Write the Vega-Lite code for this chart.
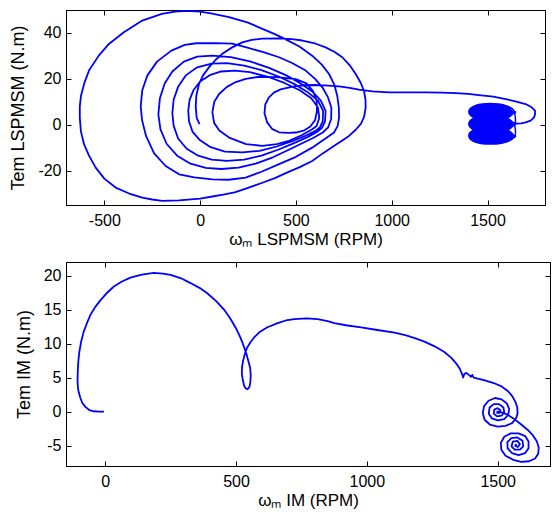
{
  "$schema": "https://vega.github.io/schema/vega-lite/v6.json",
  "padding": {"left": 9, "top": 9, "right": 2, "bottom": 0},
  "background": "white",
  "spacing": 13,
  "config": {
    "font": "Liberation Sans",
    "view": {"stroke": "#000", "strokeWidth": 1},
    "axis": {"grid": false, "domainColor": "#000", "domainWidth": 1, "tickColor": "#000", "tickSize": -5, "tickWidth": 1, "labelFont": "Liberation Sans", "labelFontSize": 16, "labelColor": "#000", "titleFont": "Liberation Sans", "titleFontSize": 17, "titleFontWeight": "normal", "titleColor": "#000", "labelFlush": false, "labelOverlap": false, "labelExpr": "'' + datum.value"},
    "axisX": {"titlePadding": 3, "labelPadding": 12},
    "axisY": {"titlePadding": 10, "labelPadding": 10, "titleFontSize": 18}
  },
  "datasets": {
    "lspmsm": [
      {"x":-3,"y":0.3},{"x":-18,"y":3},{"x":-23,"y":8},{"x":-20,"y":12.5},{"x":-6,"y":17.7},{"x":15,"y":21.5},{"x":46,"y":25},{"x":80,"y":28.2},{"x":116,"y":30.9},{"x":165,"y":33.6},{"x":220,"y":35.9},{"x":270,"y":37},{"x":325,"y":37.5},{"x":412,"y":37.6},{"x":480,"y":37.3},{"x":533,"y":36.7},{"x":600,"y":35.4},{"x":655,"y":33.7},{"x":700,"y":31.8},{"x":742,"y":29.4},{"x":780,"y":26},{"x":812,"y":22.1},{"x":838,"y":18.3},{"x":855,"y":14.8},{"x":863,"y":11},{"x":864,"y":7.5},{"x":856,"y":3.5},{"x":840,"y":0.5},{"x":812,"y":-2.2},{"x":777,"y":-4.9},
      {"x":740,"y":-7},{"x":700,"y":-9.2},{"x":640,"y":-12.5},{"x":585,"y":-15.8},{"x":520,"y":-18.5},{"x":450,"y":-21},{"x":390,"y":-23.3},{"x":325,"y":-25.3},{"x":250,"y":-27.5},{"x":180,"y":-29.5},{"x":120,"y":-30.5},{"x":64,"y":-31.3},{"x":0,"y":-32.2},{"x":-110,"y":-33},{"x":-197,"y":-33.2},{"x":-250,"y":-32.6},{"x":-302,"y":-31.8},{"x":-370,"y":-30},{"x":-441,"y":-27.4},{"x":-500,"y":-23.5},{"x":-545,"y":-18.7},{"x":-580,"y":-13.5},{"x":-606,"y":-8.5},{"x":-622,"y":-3},{"x":-628,"y":3},{"x":-628,"y":8},{"x":-622,"y":12.5},{"x":-605,"y":18},{"x":-580,"y":23.6},{"x":-530,"y":30},{"x":-476,"y":35.2},{"x":-400,"y":40.2},{"x":-302,"y":45.4},{"x":-200,"y":48.3},{"x":-130,"y":49.3},{"x":-70,"y":49.6},{"x":0,"y":49.3},{"x":50,"y":48.6},{"x":151,"y":46.9},{"x":250,"y":44.5},{"x":325,"y":41.8},{"x":390,"y":39.5},{"x":447,"y":37.2},{"x":520,"y":34},{"x":585,"y":30.1},{"x":635,"y":26.2},{"x":673,"y":22.1},{"x":700,"y":17.5},{"x":716,"y":12.5},{"x":724,"y":7.5},{"x":725,"y":3.2},{"x":718,"y":-0.5},
      {"x":699,"y":-3.4},{"x":660,"y":-5.7},{"x":620,"y":-8},{"x":585,"y":-10},{"x":500,"y":-14},{"x":412,"y":-17.2},{"x":320,"y":-20.5},{"x":238,"y":-23.1},{"x":150,"y":-24},{"x":64,"y":-23.8},{"x":-30,"y":-23},{"x":-110,"y":-21.6},{"x":-180,"y":-18},{"x":-240,"y":-12.5},{"x":-282,"y":-5},{"x":-303,"y":2},{"x":-310,"y":8},{"x":-302,"y":15},{"x":-275,"y":21.5},{"x":-225,"y":27.5},{"x":-150,"y":32.3},{"x":-80,"y":34.8},{"x":-20,"y":35.5},{"x":80,"y":35.6},{"x":167,"y":35.3},{"x":238,"y":33.8},{"x":330,"y":31.6},{"x":412,"y":29.4},{"x":480,"y":26.9},{"x":551,"y":23.6},{"x":600,"y":20},{"x":638,"y":16.3},{"x":667,"y":12},{"x":685,"y":7.5},{"x":684,"y":2.5},{"x":668,"y":-1.2},
      {"x":640,"y":-3.4},{"x":590,"y":-5.8},{"x":530,"y":-8.2},{"x":460,"y":-11},{"x":380,"y":-14.2},{"x":290,"y":-17},{"x":200,"y":-18.7},{"x":110,"y":-19.3},{"x":30,"y":-18.8},{"x":-50,"y":-17},{"x":-120,"y":-13.5},{"x":-175,"y":-8.3},{"x":-207,"y":-2},{"x":-218,"y":4.5},{"x":-210,"y":11.5},{"x":-185,"y":18},{"x":-145,"y":23.2},{"x":-85,"y":27.5},{"x":-15,"y":29.7},{"x":64,"y":30.1},{"x":160,"y":29.5},{"x":260,"y":27.6},{"x":360,"y":24.8},{"x":450,"y":21.5},{"x":525,"y":18},{"x":585,"y":14.5},{"x":630,"y":10.5},{"x":655,"y":6},{"x":652,"y":1.5},{"x":635,"y":-1.5},
      {"x":610,"y":-3.2},{"x":560,"y":-5.4},{"x":490,"y":-8},{"x":410,"y":-10.8},{"x":320,"y":-13.5},{"x":230,"y":-15.2},{"x":140,"y":-15.8},{"x":60,"y":-15.2},{"x":-10,"y":-13.5},{"x":-70,"y":-10.5},{"x":-115,"y":-6},{"x":-138,"y":-0.5},{"x":-145,"y":5},{"x":-138,"y":11},{"x":-115,"y":16.5},{"x":-75,"y":21.5},{"x":-15,"y":25},{"x":60,"y":26.6},{"x":140,"y":26.8},{"x":230,"y":25.8},{"x":320,"y":23.8},{"x":410,"y":21},{"x":490,"y":17.8},{"x":560,"y":14.3},{"x":615,"y":10.5},{"x":642,"y":6},{"x":640,"y":1.5},{"x":625,"y":-1.2},
      {"x":600,"y":-2.8},{"x":550,"y":-4.8},{"x":480,"y":-7.2},{"x":400,"y":-9.5},{"x":310,"y":-11.4},{"x":220,"y":-12.1},{"x":130,"y":-11.7},{"x":55,"y":-9.8},{"x":0,"y":-6.8},{"x":-40,"y":-3},{"x":-58,"y":1.5},{"x":-62,"y":6},{"x":-55,"y":10.8},{"x":-35,"y":15},{"x":0,"y":18.8},{"x":50,"y":21.6},{"x":110,"y":23.2},{"x":180,"y":23.6},{"x":260,"y":22.9},{"x":350,"y":21},{"x":440,"y":18.2},{"x":520,"y":15},{"x":580,"y":11.5},{"x":615,"y":7.5},{"x":622,"y":3},{"x":608,"y":-0.6},
      {"x":585,"y":-2},{"x":530,"y":-4.6},{"x":464,"y":-7},{"x":400,"y":-8.5},{"x":325,"y":-9.2},{"x":240,"y":-8.5},{"x":151,"y":-5.6},{"x":100,"y":-2.5},{"x":73,"y":0.8},{"x":64,"y":5.5},{"x":74,"y":10},{"x":99,"y":13.4},{"x":140,"y":16.5},{"x":186,"y":18.6},{"x":238,"y":20},{"x":300,"y":20.8},{"x":400,"y":20.7},{"x":499,"y":19.9},{"x":555,"y":18},{"x":590,"y":14.5},{"x":608,"y":10.5},{"x":610,"y":6},{"x":600,"y":2},
      {"x":575,"y":-0.8},{"x":540,"y":-2.6},{"x":500,"y":-3.4},{"x":460,"y":-3.6},{"x":412,"y":-3.3},{"x":375,"y":-1.8},{"x":350,"y":1},{"x":336,"y":5},{"x":340,"y":8.8},{"x":358,"y":11.8},{"x":385,"y":14},{"x":420,"y":15.4},{"x":460,"y":16.2},{"x":500,"y":16.8},{"x":540,"y":17.2},{"x":600,"y":17.3},{"x":650,"y":17.1},{"x":725,"y":16.7},{"x":780,"y":16.1},{"x":829,"y":15.3},{"x":900,"y":14.5},{"x":986,"y":14.1},{"x":1080,"y":14.1},{"x":1177,"y":14.1},{"x":1260,"y":14},{"x":1334,"y":13.8},{"x":1400,"y":13.4},{"x":1455,"y":12.9},{"x":1530,"y":12.2},{"x":1595,"y":11.2},{"x":1650,"y":10.1},{"x":1699,"y":9},{"x":1730,"y":7.6},{"x":1748,"y":6.1},{"x":1748,"y":4.5},{"x":1743,"y":3.2},{"x":1725,"y":1.8},{"x":1699,"y":1},{"x":1675,"y":0.6},{"x":1655,"y":0.5},{"x":1635,"y":0.9}
    ],
    "blob": [
      {"x":1620,"y":5.6},{"x":1589,"y":7.8},{"x":1515,"y":8.6},{"x":1441,"y":7.8},{"x":1410,"y":5.6},{"x":1441,"y":3.4},{"x":1515,"y":2.6},{"x":1589,"y":3.4},{"x":1620,"y":5.6},
      {"x":1600,"y":5.6},{"x":1575,"y":7.2},{"x":1515,"y":7.8},{"x":1455,"y":7.2},{"x":1430,"y":5.6},{"x":1455,"y":4},{"x":1515,"y":3.4},{"x":1575,"y":4},{"x":1600,"y":5.6},
      {"x":1575,"y":5.6},{"x":1557,"y":6.5},{"x":1515,"y":6.9},{"x":1473,"y":6.5},{"x":1455,"y":5.6},{"x":1473,"y":4.7},{"x":1515,"y":4.3},{"x":1557,"y":4.7},{"x":1575,"y":5.6},
      {"x":1545,"y":5.6},{"x":1515,"y":6.1},{"x":1485,"y":5.6},{"x":1515,"y":5.1},{"x":1545,"y":5.6},
      {"x":1620,"y":0.3},{"x":1589,"y":2.5},{"x":1515,"y":3.3},{"x":1441,"y":2.5},{"x":1410,"y":0.3},{"x":1441,"y":-1.9},{"x":1515,"y":-2.7},{"x":1589,"y":-1.9},{"x":1620,"y":0.3},
      {"x":1600,"y":0.3},{"x":1575,"y":1.9},{"x":1515,"y":2.5},{"x":1455,"y":1.9},{"x":1430,"y":0.3},{"x":1455,"y":-1.3},{"x":1515,"y":-1.9},{"x":1575,"y":-1.3},{"x":1600,"y":0.3},
      {"x":1575,"y":0.3},{"x":1557,"y":1.2},{"x":1515,"y":1.6},{"x":1473,"y":1.2},{"x":1455,"y":0.3},{"x":1473,"y":-0.6},{"x":1515,"y":-1},{"x":1557,"y":-0.6},{"x":1575,"y":0.3},
      {"x":1545,"y":0.3},{"x":1515,"y":0.8},{"x":1485,"y":0.3},{"x":1515,"y":-0.2},{"x":1545,"y":0.3},
      {"x":1620,"y":-4.8},{"x":1589,"y":-2.6},{"x":1515,"y":-1.8},{"x":1441,"y":-2.6},{"x":1410,"y":-4.8},{"x":1441,"y":-7},{"x":1515,"y":-7.8},{"x":1589,"y":-7},{"x":1620,"y":-4.8},
      {"x":1600,"y":-4.8},{"x":1575,"y":-3.2},{"x":1515,"y":-2.6},{"x":1455,"y":-3.2},{"x":1430,"y":-4.8},{"x":1455,"y":-6.4},{"x":1515,"y":-7},{"x":1575,"y":-6.4},{"x":1600,"y":-4.8},
      {"x":1575,"y":-4.8},{"x":1557,"y":-3.9},{"x":1515,"y":-3.5},{"x":1473,"y":-3.9},{"x":1455,"y":-4.8},{"x":1473,"y":-5.7},{"x":1515,"y":-6.1},{"x":1557,"y":-5.7},{"x":1575,"y":-4.8},
      {"x":1545,"y":-4.8},{"x":1515,"y":-4.3},{"x":1485,"y":-4.8},{"x":1515,"y":-5.3},{"x":1545,"y":-4.8}
    ],
    "curl": [
      {"x":1643,"y":5.6},{"x":1608,"y":7.9},{"x":1525,"y":8.8},{"x":1442,"y":7.9},{"x":1407,"y":5.6},{"x":1442,"y":3.3},{"x":1525,"y":2.4},{"x":1608,"y":3.3},{"x":1643,"y":5.6},
      {"x":1640,"y":5},{"x":1609,"y":6.8},{"x":1535,"y":7.6},{"x":1461,"y":6.8},{"x":1430,"y":5},{"x":1461,"y":3.2},{"x":1535,"y":2.4},{"x":1609,"y":3.2},{"x":1640,"y":5},
      {"x":1643,"y":0.3},{"x":1608,"y":2.6},{"x":1525,"y":3.5},{"x":1442,"y":2.6},{"x":1407,"y":0.3},{"x":1442,"y":-2},{"x":1525,"y":-2.9},{"x":1608,"y":-2},{"x":1643,"y":0.3},
      {"x":1640,"y":-0.3},{"x":1609,"y":1.5},{"x":1535,"y":2.3},{"x":1461,"y":1.5},{"x":1430,"y":-0.3},{"x":1461,"y":-2.1},{"x":1535,"y":-2.9},{"x":1609,"y":-2.1},{"x":1640,"y":-0.3},
      {"x":1643,"y":-4.8},{"x":1608,"y":-2.5},{"x":1525,"y":-1.6},{"x":1442,"y":-2.5},{"x":1407,"y":-4.8},{"x":1442,"y":-7.1},{"x":1525,"y":-8},{"x":1608,"y":-7.1},{"x":1643,"y":-4.8},
      {"x":1640,"y":-5.4},{"x":1609,"y":-3.6},{"x":1535,"y":-2.8},{"x":1461,"y":-3.6},{"x":1430,"y":-5.4},{"x":1461,"y":-7.2},{"x":1535,"y":-8},{"x":1609,"y":-7.2},{"x":1640,"y":-5.4}
    ],
    "im": [
      {"x":-5,"y":0},{"x":-25,"y":0},{"x":-44,"y":0.05},{"x":-60,"y":0.2},{"x":-76,"y":0.7},{"x":-88,"y":1.3},{"x":-95,"y":2},{"x":-101,"y":2.8},{"x":-104,"y":3.4},{"x":-106,"y":4.5},{"x":-105,"y":5.9},{"x":-103,"y":7.3},{"x":-99,"y":8.8},{"x":-92,"y":10.3},{"x":-82,"y":11.8},{"x":-70,"y":13},{"x":-57,"y":14.2},{"x":-38,"y":15.4},{"x":-18,"y":16.4},{"x":5,"y":17.4},{"x":33,"y":18.4},{"x":62,"y":19.1},{"x":96,"y":19.7},{"x":140,"y":20.15},{"x":186,"y":20.4},{"x":220,"y":20.3},{"x":250,"y":20.1},{"x":290,"y":19.6},{"x":326,"y":18.9},{"x":360,"y":18.2},{"x":390,"y":17.4},{"x":425,"y":16.2},{"x":454,"y":15},{"x":478,"y":13.7},{"x":499,"y":12.3},{"x":513,"y":11.2},{"x":525,"y":10.1},{"x":534,"y":9.1},{"x":541,"y":8.3},{"x":548,"y":7.3},{"x":554,"y":6.4},{"x":556,"y":5.4},{"x":555,"y":4.4},{"x":551,"y":3.6},{"x":544,"y":3.3},{"x":537,"y":3.4},{"x":531,"y":3.8},{"x":526,"y":4.6},{"x":522,"y":5.6},{"x":523,"y":6.6},{"x":527,"y":7.5},{"x":533,"y":8.4},{"x":541,"y":9.3},{"x":555,"y":10.2},{"x":569,"y":10.9},{"x":590,"y":11.7},{"x":620,"y":12.4},{"x":659,"y":13},{"x":690,"y":13.4},{"x":723,"y":13.6},{"x":770,"y":13.7},{"x":812,"y":13.6},{"x":850,"y":13.3},{"x":876,"y":13},{"x":920,"y":12.7},{"x":978,"y":12.4},{"x":1040,"y":12},{"x":1106,"y":11.6},{"x":1150,"y":11.2},{"x":1183,"y":10.8},{"x":1220,"y":10.3},{"x":1259,"y":9.6},{"x":1295,"y":8.8},{"x":1323,"y":7.9},{"x":1345,"y":6.9},{"x":1355,"y":6.3},{"x":1363,"y":5.6},{"x":1368,"y":5},{"x":1372,"y":5.5},{"x":1380,"y":5.7},{"x":1390,"y":5.4},{"x":1398,"y":5.1},{"x":1403,"y":5.4},{"x":1408,"y":5},{"x":1420,"y":4.9},{"x":1451,"y":4.6},{"x":1485,"y":4.2},{"x":1515,"y":3.7},{"x":1540,"y":3},{"x":1557,"y":2.2},{"x":1568,"y":1.4},{"x":1575,"y":0.6},{"x":1576,"y":-0.3},{"x":1570,"y":-1},{"x":1555,"y":-1.7},{"x":1530,"y":-2.1},{"x":1500,"y":-2.2},{"x":1470,"y":-1.9},{"x":1450,"y":-1.2},{"x":1443,"y":-0.2},{"x":1448,"y":0.8},{"x":1465,"y":1.6},{"x":1490,"y":2},{"x":1515,"y":1.8},{"x":1535,"y":1.2},{"x":1544,"y":0.4},{"x":1540,"y":-0.5},{"x":1525,"y":-1.1},{"x":1500,"y":-1.3},{"x":1478,"y":-1},{"x":1466,"y":-0.3},{"x":1469,"y":0.6},{"x":1485,"y":1.1},{"x":1505,"y":1.1},{"x":1522,"y":0.6},{"x":1525,"y":-0.1},{"x":1515,"y":-0.6},{"x":1498,"y":-0.7},{"x":1485,"y":-0.3},{"x":1487,"y":0.3},{"x":1500,"y":0.5},{"x":1510,"y":0.2},{"x":1507,"y":-0.2},{"x":1498,"y":-0.2},{"x":1499,"y":0},{"x":1515,"y":-0.1},{"x":1535,"y":-0.4},{"x":1560,"y":-1},{"x":1590,"y":-1.9},{"x":1615,"y":-2.7},{"x":1635,"y":-3.5},{"x":1650,"y":-4.4},{"x":1657,"y":-5.3},{"x":1655,"y":-6.2},{"x":1643,"y":-6.9},{"x":1620,"y":-7.3},{"x":1590,"y":-7.4},{"x":1560,"y":-7.1},{"x":1530,"y":-6.5},{"x":1514,"y":-5.6},{"x":1512,"y":-4.6},{"x":1525,"y":-3.7},{"x":1550,"y":-3.2},{"x":1580,"y":-3.2},{"x":1605,"y":-3.6},{"x":1618,"y":-4.4},{"x":1618,"y":-5.4},{"x":1605,"y":-6.1},{"x":1580,"y":-6.4},{"x":1555,"y":-6.1},{"x":1538,"y":-5.4},{"x":1537,"y":-4.5},{"x":1552,"y":-3.9},{"x":1575,"y":-3.8},{"x":1595,"y":-4.3},{"x":1598,"y":-5.1},{"x":1585,"y":-5.6},{"x":1565,"y":-5.6},{"x":1553,"y":-5.1},{"x":1558,"y":-4.4},{"x":1575,"y":-4.3},{"x":1585,"y":-4.8},{"x":1577,"y":-5.2},{"x":1567,"y":-5},{"x":1572,"y":-4.8}
    ]
  },
  "vconcat": [
    {
      "width": 479,
      "height": 195,
      "layer": [
        {
          "data": {"name": "lspmsm"},
          "mark": {"type": "line", "color": "#0000ff", "strokeWidth": 1.8, "strokeJoin": "round"},
          "encoding": {
            "x": {"field": "x", "type": "quantitative", "scale": {"domain": [-700, 1800], "nice": false, "zero": false}, "axis": {"values": [-500, 0, 500, 1000, 1500], "title": "ωₘ LSPMSM (RPM)"}},
            "y": {"field": "y", "type": "quantitative", "scale": {"domain": [-35, 50], "nice": false, "zero": false}, "axis": {"values": [-20, 0, 20, 40], "title": "Tem LSPMSM (N.m)"}},
            "order": {"value": null}
          }
        },
        {
          "data": {"name": "blob"},
          "mark": {"type": "line", "color": "#0000ff", "strokeWidth": 4.5, "interpolate": "cardinal", "strokeJoin": "round"},
          "encoding": {
            "x": {"field": "x", "type": "quantitative", "axis": null},
            "y": {"field": "y", "type": "quantitative", "axis": null},
            "order": {"value": null}
          }
        },
        {
          "data": {"name": "curl"},
          "mark": {"type": "line", "color": "#0000ff", "strokeWidth": 1.5, "interpolate": "cardinal"},
          "encoding": {
            "x": {"field": "x", "type": "quantitative", "axis": null},
            "y": {"field": "y", "type": "quantitative", "axis": null},
            "order": {"value": null}
          }
        },
        {
          "data": {"name": "lspmsm"},
          "mark": {"type": "line", "strokeOpacity": 0},
          "encoding": {
            "x": {"field": "x", "type": "quantitative", "axis": {"orient": "top", "labels": false, "title": null, "values": [-500, 0, 500, 1000, 1500]}},
            "y": {"field": "y", "type": "quantitative", "axis": {"orient": "right", "labels": false, "title": null, "values": [-20, 0, 20, 40]}},
            "order": {"value": null}
          }
        }
      ],
      "resolve": {"axis": {"x": "independent", "y": "independent"}}
    },
    {
      "width": 484,
      "height": 204,
      "layer": [
        {
          "data": {"name": "im"},
          "mark": {"type": "line", "color": "#0000ff", "strokeWidth": 1.8, "strokeJoin": "round"},
          "encoding": {
            "x": {"field": "x", "type": "quantitative", "scale": {"domain": [-150, 1700], "nice": false, "zero": false}, "axis": {"values": [0, 500, 1000, 1500], "title": "ωₘ IM (RPM)"}},
            "y": {"field": "y", "type": "quantitative", "scale": {"domain": [-8, 22], "nice": false, "zero": false}, "axis": {"values": [-5, 0, 5, 10, 15, 20], "title": "Tem IM (N.m)"}},
            "order": {"value": null}
          }
        },
        {
          "data": {"name": "im"},
          "mark": {"type": "line", "strokeOpacity": 0},
          "encoding": {
            "x": {"field": "x", "type": "quantitative", "axis": {"orient": "top", "labels": false, "title": null, "values": [0, 500, 1000, 1500]}},
            "y": {"field": "y", "type": "quantitative", "axis": {"orient": "right", "labels": false, "title": null, "values": [-5, 0, 5, 10, 15, 20]}},
            "order": {"value": null}
          }
        }
      ],
      "resolve": {"axis": {"x": "independent", "y": "independent"}}
    }
  ]
}
